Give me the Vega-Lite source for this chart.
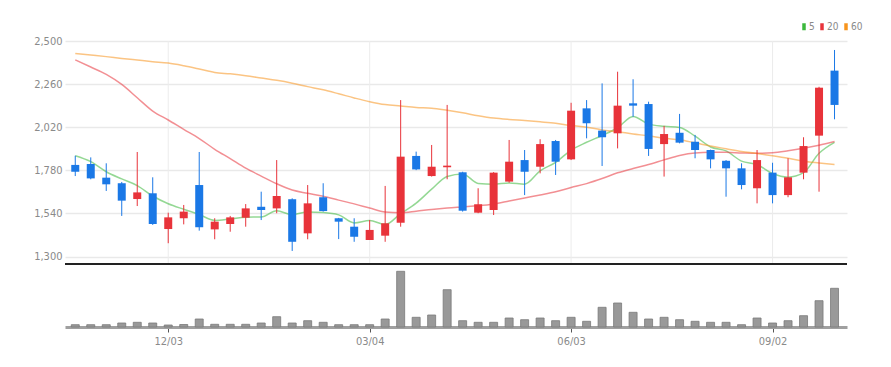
{
  "$schema": "https://vega.github.io/schema/vega-lite/v6.json",
  "autosize": {"type": "none"},
  "width": 782,
  "height": 286,
  "padding": {"left": 65, "top": 41, "right": 44, "bottom": 40},
  "background": "#ffffff",
  "config": {
    "view": {"stroke": null},
    "axis": {"labelFont": "Liberation Sans Narrow, DejaVu Sans Condensed, sans-serif", "labelColor": "#8a8a8a", "labelFontSize": 11}
  },
  "data": {"values": [
    {"date": "2018-10-22", "open": 1810, "high": 1861, "low": 1748, "close": 1772, "volume": 23000, "ma5": 1861, "ma20": 2395, "ma60": 2431},
    {"date": "2018-10-29", "open": 1815, "high": 1852, "low": 1730, "close": 1735, "volume": 23000, "ma5": 1828, "ma20": 2355, "ma60": 2422},
    {"date": "2018-11-05", "open": 1739, "high": 1819, "low": 1665, "close": 1702, "volume": 23000, "ma5": 1772, "ma20": 2314, "ma60": 2413},
    {"date": "2018-11-12", "open": 1708, "high": 1715, "low": 1526, "close": 1611, "volume": 40000, "ma5": 1732, "ma20": 2258, "ma60": 2403},
    {"date": "2018-11-19", "open": 1620, "high": 1882, "low": 1581, "close": 1657, "volume": 47000, "ma5": 1695, "ma20": 2184, "ma60": 2394},
    {"date": "2018-11-26", "open": 1652, "high": 1741, "low": 1476, "close": 1481, "volume": 40000, "ma5": 1637, "ma20": 2110, "ma60": 2385},
    {"date": "2018-12-03", "open": 1453, "high": 1544, "low": 1374, "close": 1518, "volume": 20000, "ma5": 1594, "ma20": 2060, "ma60": 2377},
    {"date": "2018-12-10", "open": 1513, "high": 1587, "low": 1479, "close": 1550, "volume": 25000, "ma5": 1563, "ma20": 2008, "ma60": 2362},
    {"date": "2018-12-17", "open": 1698, "high": 1882, "low": 1444, "close": 1463, "volume": 80000, "ma5": 1534, "ma20": 1957, "ma60": 2344},
    {"date": "2018-12-24", "open": 1451, "high": 1513, "low": 1396, "close": 1494, "volume": 27000, "ma5": 1501, "ma20": 1897, "ma60": 2325},
    {"date": "2018-12-31", "open": 1481, "high": 1526, "low": 1438, "close": 1518, "volume": 27000, "ma5": 1509, "ma20": 1845, "ma60": 2317},
    {"date": "2019-01-07", "open": 1516, "high": 1592, "low": 1466, "close": 1568, "volume": 27000, "ma5": 1519, "ma20": 1792, "ma60": 2307},
    {"date": "2019-01-14", "open": 1577, "high": 1661, "low": 1503, "close": 1559, "volume": 40000, "ma5": 1520, "ma20": 1748, "ma60": 2294},
    {"date": "2019-01-21", "open": 1568, "high": 1837, "low": 1541, "close": 1637, "volume": 103000, "ma5": 1555, "ma20": 1705, "ma60": 2281},
    {"date": "2019-01-28", "open": 1619, "high": 1624, "low": 1331, "close": 1382, "volume": 40000, "ma5": 1533, "ma20": 1670, "ma60": 2265},
    {"date": "2019-02-04", "open": 1429, "high": 1698, "low": 1396, "close": 1596, "volume": 63000, "ma5": 1548, "ma20": 1652, "ma60": 2246},
    {"date": "2019-02-11", "open": 1630, "high": 1708, "low": 1550, "close": 1553, "volume": 47000, "ma5": 1545, "ma20": 1635, "ma60": 2228},
    {"date": "2019-02-18", "open": 1513, "high": 1515, "low": 1397, "close": 1494, "volume": 23000, "ma5": 1532, "ma20": 1614, "ma60": 2206},
    {"date": "2019-02-25", "open": 1466, "high": 1513, "low": 1382, "close": 1410, "volume": 23000, "ma5": 1487, "ma20": 1593, "ma60": 2183},
    {"date": "2019-03-04", "open": 1392, "high": 1503, "low": 1392, "close": 1448, "volume": 23000, "ma5": 1500, "ma20": 1570, "ma60": 2162},
    {"date": "2019-03-11", "open": 1416, "high": 1693, "low": 1382, "close": 1485, "volume": 80000, "ma5": 1478, "ma20": 1548, "ma60": 2146},
    {"date": "2019-03-18", "open": 1488, "high": 2171, "low": 1466, "close": 1856, "volume": 557000, "ma5": 1539, "ma20": 1544, "ma60": 2138},
    {"date": "2019-03-25", "open": 1860, "high": 1884, "low": 1781, "close": 1785, "volume": 97000, "ma5": 1597, "ma20": 1552, "ma60": 2130},
    {"date": "2019-04-01", "open": 1748, "high": 1921, "low": 1745, "close": 1800, "volume": 120000, "ma5": 1675, "ma20": 1562, "ma60": 2126},
    {"date": "2019-04-08", "open": 1797, "high": 2144, "low": 1730, "close": 1806, "volume": 373000, "ma5": 1746, "ma20": 1570, "ma60": 2114},
    {"date": "2019-04-15", "open": 1769, "high": 1772, "low": 1550, "close": 1555, "volume": 63000, "ma5": 1760, "ma20": 1576, "ma60": 2100},
    {"date": "2019-04-22", "open": 1544, "high": 1680, "low": 1541, "close": 1591, "volume": 47000, "ma5": 1707, "ma20": 1582, "ma60": 2084},
    {"date": "2019-04-29", "open": 1559, "high": 1770, "low": 1531, "close": 1767, "volume": 47000, "ma5": 1703, "ma20": 1592, "ma60": 2071},
    {"date": "2019-05-06", "open": 1717, "high": 1949, "low": 1711, "close": 1828, "volume": 90000, "ma5": 1709, "ma20": 1609, "ma60": 2063},
    {"date": "2019-05-13", "open": 1837, "high": 1893, "low": 1642, "close": 1772, "volume": 73000, "ma5": 1703, "ma20": 1626, "ma60": 2057},
    {"date": "2019-05-20", "open": 1800, "high": 1953, "low": 1763, "close": 1926, "volume": 90000, "ma5": 1777, "ma20": 1643, "ma60": 2050},
    {"date": "2019-05-27", "open": 1943, "high": 1949, "low": 1754, "close": 1828, "volume": 63000, "ma5": 1824, "ma20": 1661, "ma60": 2042},
    {"date": "2019-06-03", "open": 1841, "high": 2156, "low": 1837, "close": 2112, "volume": 97000, "ma5": 1893, "ma20": 1684, "ma60": 2029},
    {"date": "2019-06-10", "open": 2125, "high": 2171, "low": 1958, "close": 2042, "volume": 57000, "ma5": 1936, "ma20": 1706, "ma60": 2020},
    {"date": "2019-06-17", "open": 2001, "high": 2264, "low": 1804, "close": 1964, "volume": 197000, "ma5": 1974, "ma20": 1734, "ma60": 2005},
    {"date": "2019-06-24", "open": 1986, "high": 2329, "low": 1902, "close": 2140, "volume": 240000, "ma5": 2017, "ma20": 1766, "ma60": 1995},
    {"date": "2019-07-01", "open": 2153, "high": 2287, "low": 2078, "close": 2140, "volume": 147000, "ma5": 2080, "ma20": 1790, "ma60": 1982},
    {"date": "2019-07-08", "open": 2149, "high": 2162, "low": 1860, "close": 1899, "volume": 80000, "ma5": 2037, "ma20": 1812, "ma60": 1972},
    {"date": "2019-07-15", "open": 1926, "high": 2027, "low": 1745, "close": 1982, "volume": 97000, "ma5": 2025, "ma20": 1838, "ma60": 1958},
    {"date": "2019-07-22", "open": 1989, "high": 2094, "low": 1930, "close": 1934, "volume": 73000, "ma5": 2019, "ma20": 1863, "ma60": 1950},
    {"date": "2019-07-29", "open": 1939, "high": 1977, "low": 1847, "close": 1893, "volume": 57000, "ma5": 1970, "ma20": 1877, "ma60": 1933},
    {"date": "2019-08-05", "open": 1893, "high": 1895, "low": 1791, "close": 1841, "volume": 47000, "ma5": 1910, "ma20": 1880, "ma60": 1915},
    {"date": "2019-08-12", "open": 1833, "high": 1837, "low": 1633, "close": 1791, "volume": 47000, "ma5": 1888, "ma20": 1880, "ma60": 1900},
    {"date": "2019-08-19", "open": 1791, "high": 1819, "low": 1674, "close": 1698, "volume": 23000, "ma5": 1831, "ma20": 1877, "ma60": 1885},
    {"date": "2019-08-26", "open": 1680, "high": 1893, "low": 1596, "close": 1837, "volume": 90000, "ma5": 1812, "ma20": 1875, "ma60": 1874},
    {"date": "2019-09-02", "open": 1767, "high": 1822, "low": 1596, "close": 1642, "volume": 40000, "ma5": 1762, "ma20": 1878, "ma60": 1861},
    {"date": "2019-09-09", "open": 1642, "high": 1847, "low": 1630, "close": 1741, "volume": 63000, "ma5": 1742, "ma20": 1889, "ma60": 1847},
    {"date": "2019-09-16", "open": 1767, "high": 1964, "low": 1730, "close": 1915, "volume": 113000, "ma5": 1767, "ma20": 1903, "ma60": 1831},
    {"date": "2019-09-23", "open": 1973, "high": 2245, "low": 1661, "close": 2240, "volume": 263000, "ma5": 1875, "ma20": 1920, "ma60": 1821},
    {"date": "2019-09-30", "open": 2335, "high": 2450, "low": 2064, "close": 2144, "volume": 387000, "ma5": 1936, "ma20": 1940, "ma60": 1812}
  ]},
  "layer": [
    {
      "layer": [
        {
          "data": {"values": [{"date": "2018-12-03"}, {"date": "2019-03-04"}, {"date": "2019-06-03"}, {"date": "2019-09-02"}]},
          "mark": {"type": "rule", "color": "#ececec", "strokeWidth": 1},
          "encoding": {
            "x": {"field": "date", "type": "temporal", "title": null, "scale": {"type": "utc", "domain": [{"year": 2018, "month": 10, "date": 19, "hours": 15, "utc": true}, {"year": 2019, "month": 10, "date": 3, "hours": 9, "utc": true}]}},
            "y": {"datum": 2500, "type": "quantitative", "title": null, "scale": {"domain": [907.5, 2500], "nice": false, "zero": false}, "axis": {"values": [1300, 1540, 1780, 2020, 2260, 2500], "labelExpr": "format(datum.value, ',')", "domain": false, "ticks": false, "grid": true, "gridColor": "#e9e9e9", "gridWidth": 1.5, "labelPadding": 3, "title": null}},
            "y2": {"datum": 1258.3}
          }
        },
        {
          "data": {"values": [{"sep": 1}]},
          "mark": {"type": "rule", "color": "#222222", "strokeWidth": 2},
          "encoding": {"y": {"datum": 1258.3, "type": "quantitative", "title": null, "scale": {"domain": [907.5, 2500], "nice": false, "zero": false}, "axis": {"values": [1300, 1540, 1780, 2020, 2260, 2500], "labelExpr": "format(datum.value, ',')", "domain": false, "ticks": false, "grid": true, "gridColor": "#e9e9e9", "gridWidth": 1.5, "labelPadding": 3, "title": null}}}
        },
        {
          "transform": [{"fold": ["ma5", "ma20", "ma60"], "as": ["ma", "v"]}],
          "mark": {"type": "line", "strokeWidth": 1.5, "opacity": 0.55, "interpolate": "monotone"},
          "encoding": {
            "x": {"field": "date", "type": "temporal", "title": null, "scale": {"type": "utc", "domain": [{"year": 2018, "month": 10, "date": 19, "hours": 15, "utc": true}, {"year": 2019, "month": 10, "date": 3, "hours": 9, "utc": true}]}},
            "y": {"field": "v", "type": "quantitative", "title": null, "scale": {"domain": [907.5, 2500], "nice": false, "zero": false}, "axis": {"values": [1300, 1540, 1780, 2020, 2260, 2500], "labelExpr": "format(datum.value, ',')", "domain": false, "ticks": false, "grid": true, "gridColor": "#e9e9e9", "gridWidth": 1.5, "labelPadding": 3, "title": null}},
            "color": {
              "field": "ma", "type": "nominal",
              "scale": {"domain": ["ma5", "ma20", "ma60"], "range": ["#3cb83c", "#e8333a", "#f7941d"]},
              "legend": {
                "orient": "none", "legendX": 734, "legendY": -19.5, "direction": "horizontal", "title": null, "padding": 0,
                "symbolType": "M0,-7L0,7", "symbolSize": 1, "symbolStrokeWidth": 3.5, "symbolOpacity": 1,
                "labelFont": "Liberation Sans Narrow, DejaVu Sans Condensed, sans-serif", "labelFontSize": 10, "labelColor": "#8a8a8a",
                "labelOffset": 0, "columnPadding": 0, "labelExpr": "replace(datum.label, 'ma', '')"
              }
            }
          }
        },
        {
          "mark": {"type": "rule", "strokeWidth": 1},
          "encoding": {
            "x": {"field": "date", "type": "temporal", "title": null, "scale": {"type": "utc", "domain": [{"year": 2018, "month": 10, "date": 19, "hours": 15, "utc": true}, {"year": 2019, "month": 10, "date": 3, "hours": 9, "utc": true}]}},
            "y": {"field": "low", "type": "quantitative", "title": null, "scale": {"domain": [907.5, 2500], "nice": false, "zero": false}, "axis": {"values": [1300, 1540, 1780, 2020, 2260, 2500], "labelExpr": "format(datum.value, ',')", "domain": false, "ticks": false, "grid": true, "gridColor": "#e9e9e9", "gridWidth": 1.5, "labelPadding": 3, "title": null}},
            "y2": {"field": "high"},
            "color": {"condition": {"test": "datum.close >= datum.open", "value": "#e8333a"}, "value": "#1a78e6"}
          }
        },
        {
          "mark": {"type": "bar", "size": 8},
          "encoding": {
            "x": {"field": "date", "type": "temporal", "title": null, "scale": {"type": "utc", "domain": [{"year": 2018, "month": 10, "date": 19, "hours": 15, "utc": true}, {"year": 2019, "month": 10, "date": 3, "hours": 9, "utc": true}]}},
            "y": {"field": "open", "type": "quantitative", "title": null, "scale": {"domain": [907.5, 2500], "nice": false, "zero": false}, "axis": {"values": [1300, 1540, 1780, 2020, 2260, 2500], "labelExpr": "format(datum.value, ',')", "domain": false, "ticks": false, "grid": true, "gridColor": "#e9e9e9", "gridWidth": 1.5, "labelPadding": 3, "title": null}},
            "y2": {"field": "close"},
            "color": {"condition": {"test": "datum.close >= datum.open", "value": "#e8333a"}, "value": "#1a78e6"}
          }
        }
      ]
    },
    {
      "mark": {"type": "bar", "size": 8, "color": "#999999", "stroke": "#7a7a7a", "strokeWidth": 0.8},
      "encoding": {
        "x": {
          "field": "date", "type": "temporal", "title": null,
          "scale": {"type": "utc", "domain": [{"year": 2018, "month": 10, "date": 19, "hours": 15, "utc": true}, {"year": 2019, "month": 10, "date": 3, "hours": 9, "utc": true}]},
          "axis": {
            "values": [{"year": 2018, "month": 12, "date": 3, "utc": true}, {"year": 2019, "month": 3, "date": 4, "utc": true}, {"year": 2019, "month": 6, "date": 3, "utc": true}, {"year": 2019, "month": 9, "date": 2, "utc": true}],
            "format": "%m/%d", "grid": false, "domainColor": "#a0a0a0", "domainWidth": 3, "tickColor": "#555555", "tickSize": 5, "tickWidth": 1, "labelPadding": 3, "title": null
          }
        },
        "y": {"field": "volume", "type": "quantitative", "title": null, "scale": {"domain": [0, 2860000], "nice": false}, "axis": null}
      }
    }
  ],
  "resolve": {"scale": {"y": "independent"}}
}
